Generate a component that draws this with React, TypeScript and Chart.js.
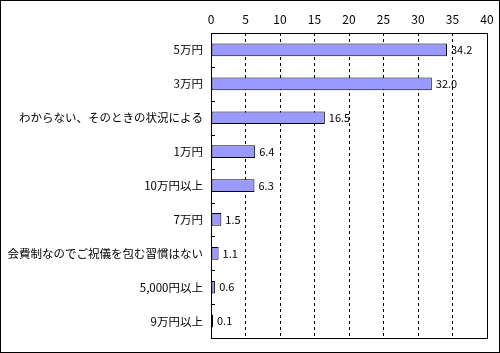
import React, { useEffect, useRef } from "react";
import { Chart, registerables } from "chart.js";

Chart.register(...registerables);

const categories = [
  "5万円",
  "3万円",
  "わからない、そのときの状況による",
  "1万円",
  "10万円以上",
  "7万円",
  "会費制なのでご祝儀を包む習慣はない",
  "5,000円以上",
  "9万円以上",
];
const values = [34.2, 32.0, 16.5, 6.4, 6.3, 1.5, 1.1, 0.6, 0.1];
const xMin = 0;
const xMax = 40;
const xStep = 5;

const FONT = "'Noto Sans CJK JP', 'DejaVu Sans', sans-serif";

const framePlugin = {
  id: "frame",
  afterDraw(chart: any) {
    const { ctx, chartArea, scales } = chart;
    ctx.save();
    ctx.strokeStyle = "#000";
    ctx.lineWidth = 1;
    // outer border
    ctx.strokeRect(0.5, 0.5, chart.width - 1, chart.height - 1);
    // plot border
    ctx.strokeRect(
      Math.round(chartArea.left) + 0.5,
      Math.round(chartArea.top) + 0.5,
      Math.round(chartArea.right - chartArea.left),
      Math.round(chartArea.bottom - chartArea.top)
    );
    // inner ticks on y axis at category boundaries
    const y = scales.y;
    for (let i = 0; i < categories.length - 1; i++) {
      const py = Math.round(y.getPixelForValue(i + 0.5)) + 0.5;
      ctx.beginPath();
      ctx.moveTo(Math.round(chartArea.left), py);
      ctx.lineTo(Math.round(chartArea.left) + 4, py);
      ctx.stroke();
    }
    // value labels
    const meta = chart.getDatasetMeta(0);
    ctx.fillStyle = "#000";
    ctx.font = `11px ${FONT}`;
    ctx.textAlign = "left";
    ctx.textBaseline = "middle";
    meta.data.forEach((bar: any, i: number) => {
      ctx.fillText(values[i].toFixed(1), bar.x + 4, bar.y);
    });
    ctx.restore();
  },
};

export default function App() {
  const ref = useRef<HTMLCanvasElement>(null);
  useEffect(() => {
    if (!ref.current) return;
    const chart = new Chart(ref.current, {
      type: "bar",
      data: {
        labels: categories,
        datasets: [
          {
            data: values,
            backgroundColor: "#9999ff",
            borderColor: "#000000",
            borderWidth: 1,
            borderSkipped: false,
            categoryPercentage: 1,
            barPercentage: 0.375,
            minBarLength: 2,
          },
        ],
      },
      options: {
        indexAxis: "y",
        animation: false,
        responsive: false,
        devicePixelRatio: 1,
        layout: { padding: { left: 0, top: 0, right: 13, bottom: 8 } },
        plugins: {
          legend: { display: false },
          tooltip: { enabled: false },
        },
        scales: {
          x: {
            position: "top",
            min: xMin,
            max: xMax,
            ticks: {
              stepSize: xStep,
              color: "#000",
              font: { family: FONT, size: 12 },
              padding: 6,
            },
            grid: {
              color: (c: any) =>
                c.tick && (c.tick.value === xMin || c.tick.value === xMax)
                  ? "rgba(0,0,0,0)"
                  : "#000",
              lineWidth: 1,
              drawTicks: false,
            },
            border: { display: false, dash: [3, 3] },
            afterFit: (s: any) => {
              s.height = 33;
            },
          },
          y: {
            offset: true,
            ticks: {
              color: "#000",
              font: { family: FONT, size: 11.5 },
              padding: 8,
            },
            grid: { display: false, drawTicks: false },
            border: { display: false },
            afterFit: (s: any) => {
              s.width = 211;
            },
          },
        },
      },
      plugins: [framePlugin],
    } as any);
    return () => chart.destroy();
  }, []);
  return (
    <div style={{ position: "fixed", left: 0, top: 0, width: 500, height: 353, background: "#fff" }}>
      <canvas ref={ref} width={500} height={353} style={{ display: "block", width: 500, height: 353 }} />
    </div>
  );
}
